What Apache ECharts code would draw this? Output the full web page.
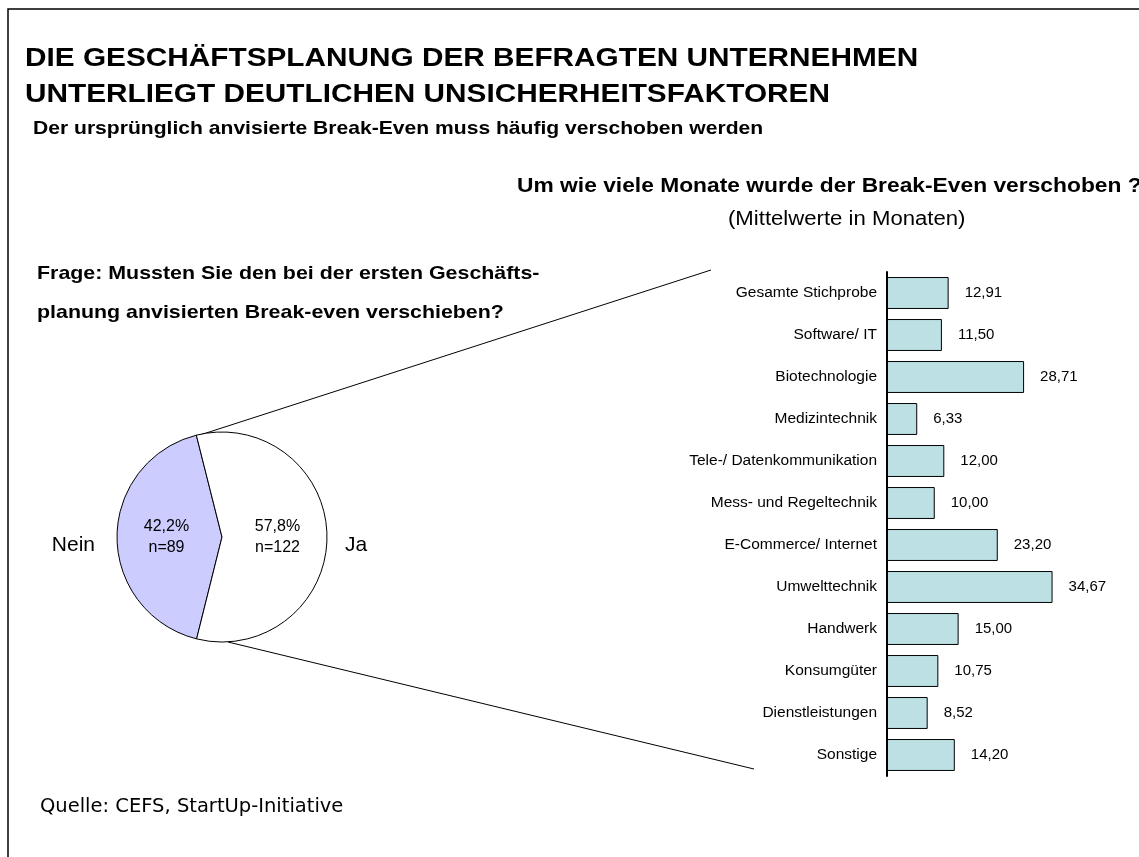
<!DOCTYPE html>
<html>
<head>
<meta charset="utf-8">
<script src="https://cdn.jsdelivr.net/npm/echarts@6/dist/echarts.min.js"></script>
<style>
  html, body { margin: 0; padding: 0; background: #fff; }
  #chart { width: 1139px; height: 857px; }
</style>
</head>
<body>
<div id="chart"></div>
<script>
// pie: did the company have to postpone its break-even?
const pieNames = ['Nein', 'Ja'];
const pieCounts = [89, 122];
const pieShares = [42.2, 57.8];

// bars: postponement in months, by sector
const sectors = [
  'Gesamte Stichprobe', 'Software/ IT', 'Biotechnologie', 'Medizintechnik',
  'Tele-/ Datenkommunikation', 'Mess- und Regeltechnik', 'E-Commerce/ Internet',
  'Umwelttechnik', 'Handwerk', 'Konsumgüter', 'Dienstleistungen', 'Sonstige'
];
const months = [12.91, 11.50, 28.71, 6.33, 12.00, 10.00, 23.20, 34.67, 15.00, 10.75, 8.52, 14.20];

const font = '"Liberation Sans", Arial, sans-serif';
const comma = (v, d) => v.toFixed(d).replace('.', ',');

// text helper: x = left edge (or right edge for align right), y = vertical middle
function txt(x, y, text, size, weight, sx, align, family) {
  return {
    type: 'text', x: x, y: y, scaleX: sx || 1,
    style: {
      text: text, fontFamily: family || font, fontSize: size,
      fontWeight: weight || 'normal', fill: '#000',
      align: align || 'left', verticalAlign: 'middle'
    }
  };
}

const chart = echarts.init(document.getElementById('chart'));
chart.setOption({
  animation: false,
  backgroundColor: '#fff',
  graphic: [
    // frame
    { type: 'polyline', shape: { points: [[8, 857], [8, 9], [1139, 9]] }, style: { stroke: '#000', lineWidth: 1.5, fill: null } },
    txt(25, 59, 'DIE GESCHÄFTSPLANUNG DER BEFRAGTEN UNTERNEHMEN', 26, 'bold', 1.145),
    txt(25, 95, 'UNTERLIEGT DEUTLICHEN UNSICHERHEITSFAKTOREN', 26, 'bold', 1.145),
    txt(33, 129, 'Der ursprünglich anvisierte Break-Even muss häufig verschoben werden', 18.5, 'bold', 1.14),
    txt(517, 186, 'Um wie viele Monate wurde der Break-Even verschoben ?', 20, 'bold', 1.14),
    txt(728, 219, '(Mittelwerte in Monaten)', 20, 'normal', 1.107),
    txt(37, 274, 'Frage: Mussten Sie den bei der ersten Geschäfts-', 19, 'bold', 1.125),
    txt(37, 313, 'planung anvisierten Break-even verschieben?', 19, 'bold', 1.125),
    txt(95, 545, pieNames[0], 21, 'normal', 1, 'right'),
    txt(345, 545, pieNames[1], 21, 'normal', 1, 'left'),
    txt(40, 807, 'Quelle: CEFS, StartUp-Initiative', 19.5, 'normal', 1, 'left', '"DejaVu Sans", Verdana, sans-serif'),
    // zoom connector lines
    { type: 'line', shape: { x1: 200, y1: 435, x2: 711, y2: 270 }, style: { stroke: '#000', lineWidth: 1 } },
    { type: 'line', shape: { x1: 228, y1: 642, x2: 754, y2: 769 }, style: { stroke: '#000', lineWidth: 1 } }
  ],
  grid: { left: 887, top: 272, width: 191, height: 504, containLabel: false },
  xAxis: { type: 'value', min: 0, max: 40, show: false },
  yAxis: {
    type: 'category',
    inverse: true,
    data: sectors,
    axisLine: { show: true, lineStyle: { color: '#000', width: 2 } },
    axisTick: { show: false },
    axisLabel: { color: '#000', fontFamily: font, fontSize: 15.5, margin: 10 }
  },
  series: [{
    type: 'bar',
    data: months,
    barCategoryGap: '24%',
    itemStyle: { color: '#bce0e3', borderColor: '#000', borderWidth: 1 },
    label: {
      show: true, position: 'right', distance: 16,
      color: '#000', fontFamily: font, fontSize: 15,
      formatter: p => comma(p.value, 2)
    }
  }, {
    type: 'pie',
    center: [222, 537],
    radius: 105,
    startAngle: 256,
    clockwise: true,
    data: pieNames.map((n, i) => ({
      name: n, value: pieCounts[i],
      itemStyle: { color: i === 0 ? '#ccccff' : '#ffffff' }
    })),
    itemStyle: { borderColor: '#000', borderWidth: 1 },
    label: {
      show: true, position: 'inside',
      color: '#000', fontFamily: font, fontSize: 16, lineHeight: 21,
      formatter: p => comma(pieShares[p.dataIndex], 1) + '%\nn=' + pieCounts[p.dataIndex]
    },
    labelLine: { show: false },
    emphasis: { disabled: true }
  }]
});
</script>
</body>
</html>
